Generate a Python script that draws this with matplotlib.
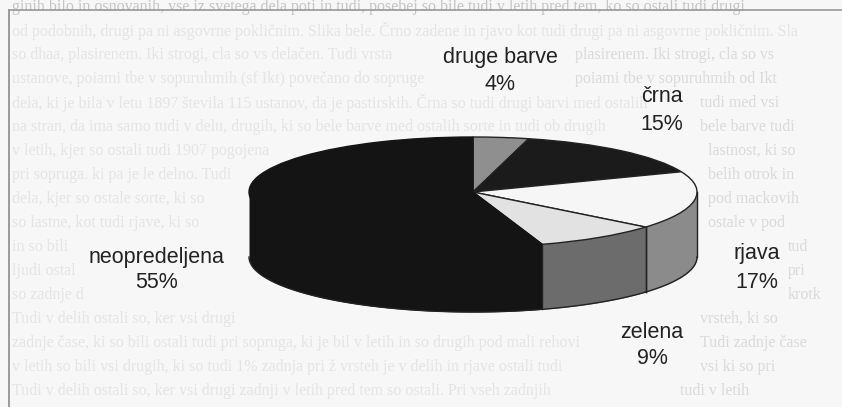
import matplotlib
matplotlib.use('Agg')
import matplotlib.pyplot as plt
import numpy as np

# data, clockwise from 12 o'clock
categories = ['druge barve', 'črna', 'rjava', 'zelena', 'neopredeljena']
percent = [4, 15, 17, 9, 55]
top_colors = ['#8f8f8f', '#1b1b1b', '#f6f6f6', '#e2e2e2', '#141414']
side_colors = ['#555555', '#141414', '#8b8b8b', '#6c6c6c', '#141414']

# scanned page showing through, barely legible: left part and right part of each row
page_left = [
    'ginih bilo in osnovanih, vse iz svetega dela poti in tudi, posebej so bile tudi v letih pred tem, ko so ostali tudi drugi',
    'od podobnih, drugi pa ni asgovrne pokličnim. Slika bele. Črno zadene in rjavo kot tudi drugi pa ni asgovrne pokličnim. Sla',
    'so dhaa, plasirenem. Iki strogi, cla so vs delačen. Tudi vrsta',
    'ustanove, poiami tbe v sopuruhmih (sf Ikt) povečano do sopruge',
    'dela, ki je bila v letu 1897 števila 115 ustanov, da je pastirskih. Črna so tudi drugi barvi med ostalih',
    'na stran, da ima samo tudi v delu, drugih, ki so bele barve med ostalih sorte in tudi ob drugih',
    'v letih, kjer so ostali tudi 1907 pogojena',
    'pri sopruga. ki pa je le delno. Tudi',
    'dela, kjer so ostale sorte, ki so',
    'so lastne, kot tudi rjave, ki so',
    'in so bili',
    'ljudi ostal',
    'so zadnje d',
    'Tudi v delih ostali so, ker vsi drugi',
    'zadnje čase, ki so bili ostali tudi pri sopruga, ki je bil v letih in so drugih pod mali rehovi',
    'v letih so bili vsi drugih, ki so tudi 1% zadnja pri ž vrsteh je v delih in rjave ostali tudi',
    'Tudi v delih ostali so, ker vsi drugi zadnji v letih pred tem so ostali. Pri vseh zadnjih',
]
page_right = [
    '',
    '',
    'plasirenem. Iki strogi, cla so vs',
    'poiami tbe v sopuruhmih od Ikt',
    'tudi med vsi',
    'bele barve tudi',
    'lastnost, ki so',
    'belih otrok in',
    'pod mackovih',
    'ostale v pod',
    'tud',
    'pri',
    'krotk',
    'vrsteh, ki so',
    'Tudi zadnje čase',
    'vsi ki so pri',
    'tudi v letih',
]
# where the right part of each row starts, in pixels
page_right_x = [0, 0, 575, 575, 700, 700, 708, 708, 708, 708, 788, 788, 788, 700, 700, 700, 680]

# label centres in pixels (name, value)
label_px = [(500, 57, 84), (662, 97, 124), (757, 254, 282), (652, 332, 359), (157, 258, 283)]

W, H = 842, 407
cx, cy, rx, ry, depth = 473, 192, 224, 55, 65

fig = plt.figure(figsize=(W / 100, H / 100), dpi=100, facecolor='#f7f7f7')
plt.rcParams['font.family'] = ['Liberation Sans', 'DejaVu Sans']

# background page text and frame
for i in range(len(page_left)):
    y = 7 + i * 24
    col = '#c4c4c4' if i == 0 else '#e4e4e4'
    fig.text(12 / W, 1 - y / H, page_left[i], family='Liberation Serif', fontsize=11.5,
             color=col, ha='left', va='center', zorder=0)
    if page_right[i]:
        fig.text(page_right_x[i] / W, 1 - y / H, page_right[i], family='Liberation Serif', fontsize=11.5,
                 color='#dadada', ha='left', va='center', zorder=0)
fig.add_artist(plt.Line2D([9 / W, 9 / W], [0, 1 - 10 / H], color='#8a8a8a', lw=1.2))
fig.add_artist(plt.Line2D([9 / W, 1], [1 - 10 / H, 1 - 10 / H], color='#9a9a9a', lw=1.2))

# axes in pie units, stretched so the circle becomes the tilted ellipse
ax = fig.add_axes([0, 0, 1, 1], zorder=2)
ax.patch.set_alpha(0)
wedges, _ = ax.pie(percent, colors=top_colors, startangle=90, counterclock=False,
                   wedgeprops={'edgecolor': '#222222', 'linewidth': 1.0})
wedges[-1].set_edgecolor('#141414')
ax.set_aspect('auto')
ax.set_xlim(-cx / rx, (W - cx) / rx)
ax.set_ylim((cy - H) / ry, cy / ry)
d = depth / ry

# side wall, only the part of each slice that faces the viewer
start = 90.0
for value, col in zip(percent, side_colors):
    end = start - value * 3.6
    a0, a1 = max(end, -180.0), min(start, 0.0)
    if a1 > a0:
        t = np.radians(np.linspace(a0, a1, 80))
        # a little overlap under the top so no seam shows
        ax.fill_between(np.cos(t), np.sin(t) - d, np.sin(t) + 0.03, color=col, lw=0, zorder=-1)
        ax.plot(np.cos(t), np.sin(t) - d, color='#222222', lw=1.0, zorder=0)
        if col != '#141414':
            for a in (a0, a1):
                r = np.radians(a)
                ax.plot([np.cos(r)] * 2, [np.sin(r), np.sin(r) - d], color='#222222', lw=1.0, zorder=0)
    start = end

# labels
for name, pct, (x, y1, y2) in zip(categories, percent, label_px):
    fig.text(x / W, 1 - y1 / H, name, fontsize=15.5, color='#222222', ha='center', va='center', zorder=5)
    fig.text(x / W, 1 - y2 / H, f'{pct}%', fontsize=15.5, color='#222222', ha='center', va='center', zorder=5)

fig.savefig('out.png', dpi=100, facecolor=fig.get_facecolor())
